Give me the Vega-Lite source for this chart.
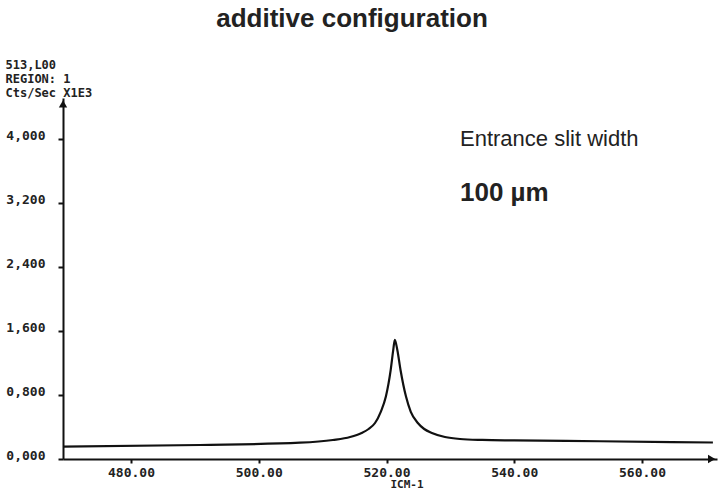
{
  "$schema": "https://vega.github.io/schema/vega-lite/v6.json",
  "width": 654,
  "height": 361,
  "autosize": {"type": "none"},
  "padding": {"left": 63, "top": 98, "right": 2, "bottom": 32},
  "background": "white",
  "config": {"view": {"stroke": null}},
  "layer": [
    {
      "data": {
        "values": [
          {"cm": 469.35, "cts": 0.154},
          {"cm": 490.8, "cts": 0.175},
          {"cm": 506.45, "cts": 0.204},
          {"cm": 511.6, "cts": 0.2375},
          {"cm": 514.3, "cts": 0.275},
          {"cm": 516.1, "cts": 0.325},
          {"cm": 517.2, "cts": 0.375},
          {"cm": 518.2, "cts": 0.45},
          {"cm": 519.1, "cts": 0.59},
          {"cm": 519.9, "cts": 0.78},
          {"cm": 520.65, "cts": 1.11},
          {"cm": 521.05, "cts": 1.36},
          {"cm": 521.3, "cts": 1.49},
          {"cm": 521.7, "cts": 1.36},
          {"cm": 522.2, "cts": 1.11},
          {"cm": 523.05, "cts": 0.78},
          {"cm": 523.8, "cts": 0.59},
          {"cm": 524.9, "cts": 0.45},
          {"cm": 525.9, "cts": 0.375},
          {"cm": 527.1, "cts": 0.325},
          {"cm": 529.15, "cts": 0.275},
          {"cm": 531.5, "cts": 0.25},
          {"cm": 535.0, "cts": 0.238},
          {"cm": 540.0, "cts": 0.232},
          {"cm": 553.4, "cts": 0.222},
          {"cm": 571.1, "cts": 0.206}
        ]
      },
      "mark": {"type": "line", "color": "#111111", "strokeWidth": 2.2, "interpolate": "monotone"},
      "encoding": {
        "x": {
          "field": "cm",
          "type": "quantitative",
          "scale": {"domain": [469.35, 571.74], "nice": false, "zero": false},
          "axis": {
            "values": [480, 500, 520, 540, 560],
            "format": ".2f",
            "grid": false,
            "domainColor": "#111111",
            "domainWidth": 2,
            "tickColor": "#111111",
            "tickSize": 4,
            "tickWidth": 2,
            "labelFont": "DejaVu Sans Mono",
            "labelFontWeight": "bold",
            "labelFontSize": 13,
            "labelColor": "#222222",
            "labelPadding": 3,
            "labelFlush": false,
            "labelOverlap": false,
            "title": "ICM-1",
            "titleFont": "DejaVu Sans Mono",
            "titleFontWeight": "bold",
            "titleFontSize": 11,
            "titleColor": "#222222",
            "titleX": 327,
            "titleY": 19,
            "titleAlign": "left",
            "titleBaseline": "top",
            "titleAnchor": null
          }
        },
        "y": {
          "field": "cts",
          "type": "quantitative",
          "scale": {"domain": [0, 4.5125], "nice": false},
          "axis": {
            "values": [0, 0.8, 1.6, 2.4, 3.2, 4.0],
            "labelExpr": "replace(format(datum.value, '.3f'), '.', ',')",
            "grid": false,
            "domainColor": "#111111",
            "domainWidth": 2,
            "tickColor": "#111111",
            "tickSize": 5,
            "tickWidth": 2,
            "labelFont": "DejaVu Sans Mono",
            "labelFontWeight": "bold",
            "labelFontSize": 13,
            "labelColor": "#222222",
            "labelPadding": 13,
            "labelBaseline": "alphabetic",
            "labelFlush": false,
            "labelOverlap": false,
            "title": ["513,L00", "REGION: 1", "Cts/Sec X1E3"],
            "titleAngle": 0,
            "titleX": -58,
            "titleY": -39,
            "titleAlign": "left",
            "titleBaseline": "top",
            "titleAnchor": null,
            "titleFont": "DejaVu Sans Mono",
            "titleFontWeight": "bold",
            "titleFontSize": 12,
            "titleLineHeight": 14,
            "titleColor": "#222222"
          }
        }
      }
    },
    {
      "data": {
        "values": [
          {"cm": 469.35, "cts": 4.44, "shape": "triangle-up"},
          {"cm": 570.9, "cts": 0, "shape": "triangle-right"}
        ]
      },
      "mark": {"type": "point", "filled": true, "color": "#111111", "size": 70, "opacity": 1},
      "encoding": {
        "x": {"field": "cm", "type": "quantitative"},
        "y": {"field": "cts", "type": "quantitative"},
        "shape": {"field": "shape", "type": "nominal", "scale": null, "legend": null}
      }
    },
    {
      "data": {"values": [{"cm": 514.6, "cts": 5.4, "label": "additive configuration"}]},
      "mark": {"type": "text", "align": "center", "baseline": "alphabetic", "font": "Liberation Sans", "fontSize": 26, "fontWeight": "bold", "color": "#222222"},
      "encoding": {
        "x": {"field": "cm", "type": "quantitative"},
        "y": {"field": "cts", "type": "quantitative"},
        "text": {"field": "label"}
      }
    },
    {
      "data": {"values": [{"cm": 531.5, "cts": 4.0, "label": "Entrance slit width"}]},
      "mark": {"type": "text", "align": "left", "baseline": "middle", "font": "Liberation Sans", "fontSize": 22, "color": "#222222"},
      "encoding": {
        "x": {"field": "cm", "type": "quantitative"},
        "y": {"field": "cts", "type": "quantitative"},
        "text": {"field": "label"}
      }
    },
    {
      "data": {"values": [{"cm": 531.5, "cts": 3.33, "label": "100 µm"}]},
      "mark": {"type": "text", "align": "left", "baseline": "middle", "font": "Liberation Sans", "fontSize": 26, "fontWeight": "bold", "color": "#222222"},
      "encoding": {
        "x": {"field": "cm", "type": "quantitative"},
        "y": {"field": "cts", "type": "quantitative"},
        "text": {"field": "label"}
      }
    }
  ]
}
